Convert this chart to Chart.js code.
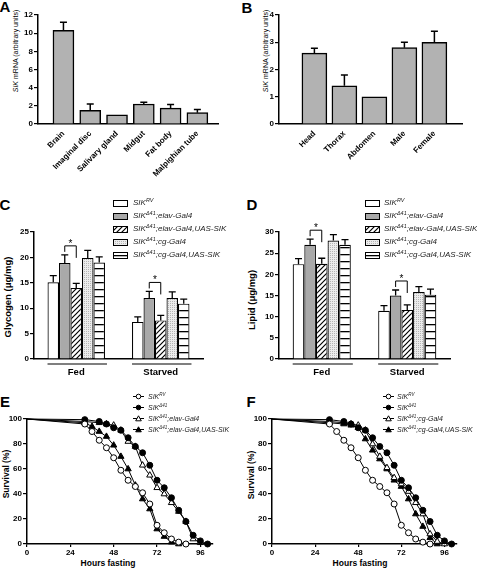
<!DOCTYPE html>
<html>
<head>
<meta charset="utf-8">
<title>SIK expression, storage and starvation survival</title>
<script src="https://cdn.jsdelivr.net/npm/chart.js@4.4.1/dist/chart.umd.min.js"></script>
<style>
  html, body { margin: 0; padding: 0; background: #fff; }
  #fig { position: relative; width: 477px; height: 569px; overflow: hidden;
         font-family: "Liberation Sans", Arial, Helvetica, sans-serif; color: #000; }
  #fig canvas { position: absolute; }
  .txt { position: absolute; white-space: nowrap; line-height: 1; transform: translate(-50%, -50%); }
  .vert { transform: translate(-50%, -50%) rotate(-90deg); }
  .letter { font-size: 15px; font-weight: bold; }
  .ymrna { font-size: 7px; }
  .ybold { font-size: 9.5px; font-weight: bold; }
  .xbold { font-size: 8.5px; font-weight: bold; }
  .leg { position: absolute; white-space: nowrap; line-height: 1; font-style: italic; color: #222; transform: translateY(-50%); }
  .leg sup { vertical-align: 0; position: relative; line-height: 0; }
</style>
</head>
<body>
<div id="fig">
  <div class="txt letter" style="left:5px;top:6px">A</div>
  <div class="txt letter" style="left:247px;top:7px">B</div>
  <div class="txt letter" style="left:5px;top:204px">C</div>
  <div class="txt letter" style="left:252px;top:204px">D</div>
  <div class="txt letter" style="left:5px;top:401px">E</div>
  <div class="txt letter" style="left:251px;top:401px">F</div>

  <div class="txt vert ymrna" style="left:15px;top:51px"><i>SIK</i> mRNA (arbitrary units)</div>
  <div class="txt vert ymrna" style="left:265px;top:51px"><i>SIK</i> mRNA (arbitrary units)</div>
  <div class="txt vert ybold" style="left:8px;top:297px">Glycogen (μg/mg)</div>
  <div class="txt vert ybold" style="left:252px;top:300px">Lipid (μg/mg)</div>
  <div class="txt vert xbold" style="left:6px;top:474px">Survival (%)</div>
  <div class="txt vert xbold" style="left:251px;top:475px">Survival (%)</div>
  <div class="txt xbold" style="left:108px;top:563px">Hours fasting</div>
  <div class="txt xbold" style="left:360px;top:563px">Hours fasting</div>
</div>

<script>
// A: SIK mRNA in tissues
const tissues = ["Brain", "Imaginal disc", "Salivary gland", "Midgut", "Fat body", "Malpighian tube"];
const tissueMean = [10.3, 1.5, 1.0, 2.2, 1.75, 1.25];
const tissueErr = [0.9, 0.7, 0, 0.2, 0.4, 0.35];
const tissueTicks = [0, 2, 4, 6, 8, 10, 12];

// B: SIK mRNA in body parts
const bodyParts = ["Head", "Thorax", "Abdomen", "Male", "Female"];
const bodyMean = [2.6, 1.4, 1.0, 2.8, 3.0];
const bodyErr = [0.18, 0.4, 0, 0.2, 0.4];
const bodyTicks = [0, 1, 2, 3, 4];

// C / D: genotypes, values are [Fed, Starved]
const conditions = ["Fed", "Starved"];
const genotypes = [
  "SIK<sup>RV</sup>",
  "SIK<sup>Δ41</sup>;elav-Gal4",
  "SIK<sup>Δ41</sup>;elav-Gal4,UAS-SIK",
  "SIK<sup>Δ41</sup>;cg-Gal4",
  "SIK<sup>Δ41</sup>;cg-Gal4,UAS-SIK",
];

const glyRV = [15.1, 7.3];
const glyElav = [18.9, 12.0];
const glyElavUAS = [14.0, 7.6];
const glyCg = [19.9, 12.0];
const glyCgUAS = [19.0, 10.9];
const glyErrRV = [1.3, 1.0];
const glyErrElav = [1.6, 1.3];
const glyErrElavUAS = [0.9, 1.0];
const glyErrCg = [1.5, 1.2];
const glyErrCgUAS = [1.1, 0.9];
const glycogenTicks = [0, 5, 10, 15, 20, 25];

const lipRV = [22.4, 11.4];
const lipElav = [27.0, 15.0];
const lipElavUAS = [22.5, 11.6];
const lipCg = [28.0, 15.8];
const lipCgUAS = [27.0, 15.2];
const lipErrRV = [1.3, 1.2];
const lipErrElav = [1.3, 1.3];
const lipErrElavUAS = [1.3, 1.2];
const lipErrCg = [1.4, 1.3];
const lipErrCgUAS = [1.2, 1.3];
const lipidTicks = [0, 5, 10, 15, 20, 25, 30];

// E / F: survival during fasting
const hoursRV = [0, 32, 36, 40, 44, 48, 52, 56, 60, 64, 68, 72, 76, 80, 84, 88];
const survRV = [100, 96, 90, 83, 77, 69, 59, 51, 46, 41, 32, 15, 9, 4, 1.5, 0];
const hoursD41 = [0, 32, 40, 44, 48, 52, 56, 60, 64, 68, 72, 76, 80, 84, 88, 92, 96, 100];
const survD41 = [100, 99.5, 98, 96, 93, 91, 85, 78, 73, 63, 51, 45, 37, 27, 18, 7, 2.5, 0];
const hoursElav = [0, 32, 40, 44, 48, 52, 56, 60, 64, 68, 72, 76, 80, 84, 88, 92, 96];
const survElav = [100, 98, 97, 96, 95, 91, 82, 78, 63, 55, 45, 40, 33, 26, 18, 4, 1];
const hoursElavUAS = [0, 32, 36, 40, 44, 48, 52, 56, 60, 64, 68, 72, 76, 80, 84];
const survElavUAS = [100, 97, 94, 90, 86, 79, 70, 60, 47, 36, 28, 12, 6, 1.5, 0];
const hoursCg = [0, 32, 40, 44, 48, 52, 56, 60, 64, 68, 72, 76, 80, 84, 88, 92, 96];
const survCg = [100, 98, 97, 96, 95, 91, 80, 70, 61, 53, 48, 42, 33, 24, 8, 2, 0];
const hoursCgUAS = [0, 32, 40, 44, 48, 52, 56, 60, 64, 68, 72, 76, 80, 84, 88, 92];
const survCgUAS = [100, 97, 96, 95, 93, 84, 75, 68, 60, 51, 46, 36, 24, 14, 5, 0];
const survivalTicks = [0, 20, 40, 60, 80, 100];
const hourTicks = [0, 24, 48, 72, 96];
const namesE = ["SIK<sup>RV</sup>", "SIK<sup>Δ41</sup>", "SIK<sup>Δ41</sup>;elav-Gal4", "SIK<sup>Δ41</sup>;elav-Gal4,UAS-SIK"];
const namesF = ["SIK<sup>RV</sup>", "SIK<sup>Δ41</sup>", "SIK<sup>Δ41</sup>;cg-Gal4", "SIK<sup>Δ41</sup>;cg-Gal4,UAS-SIK"];

const FONT = "'Liberation Sans', Arial, Helvetica, sans-serif";
Chart.defaults.font.family = FONT;
Chart.defaults.color = "#000";
Chart.defaults.animation = false;

const fig = document.getElementById("fig");

function addCanvas(left, top, w, h) {
  const c = document.createElement("canvas");
  c.width = w;
  c.height = h;
  c.style.left = left + "px";
  c.style.top = top + "px";
  c.style.width = w + "px";
  c.style.height = h + "px";
  fig.appendChild(c);
  return c;
}

// fixed axis sizes so the plot areas land where the figure has them
function fixW(w) {
  return s => { s.width = w; s.paddingLeft = s.paddingRight = s.paddingTop = s.paddingBottom = 0; };
}
function fixH(h) {
  return s => { s.height = h; s.paddingLeft = s.paddingRight = s.paddingTop = s.paddingBottom = 0; };
}
function setTicks(vals) {
  return s => { s.ticks = vals.map(v => ({ value: v })); };
}

function yAxis(width, ticks) {
  return {
    min: 0,
    max: ticks[ticks.length - 1],
    afterBuildTicks: setTicks(ticks),
    afterFit: fixW(width),
    grid: { drawOnChartArea: false, color: "#000", lineWidth: 1.2, tickLength: 4 },
    border: { color: "#000", width: 1.5 },
    ticks: { font: { size: 8, weight: "bold" }, color: "#000", padding: 1 },
  };
}

// patterns for the bar fills
function makePattern(kind) {
  const c = document.createElement("canvas");
  const x = c.getContext("2d");
  if (kind === "hatch") {
    c.width = c.height = 5;
    x.fillStyle = "#fff";
    x.fillRect(0, 0, 5, 5);
    x.strokeStyle = "#000";
    x.lineWidth = 1.2;
    x.beginPath();
    x.moveTo(-1, 6); x.lineTo(6, -1);
    x.moveTo(-1, 1); x.lineTo(1, -1);
    x.moveTo(4, 6); x.lineTo(6, 4);
    x.stroke();
  } else if (kind === "dots") {
    c.width = c.height = 2;
    x.fillStyle = "#ececec";
    x.fillRect(0, 0, 2, 2);
    x.fillStyle = "#b5b5b5";
    x.fillRect(0, 0, 1, 1);
  } else {
    c.width = 4; c.height = 7;
    x.fillStyle = "#fff";
    x.fillRect(0, 0, 4, 7);
    x.fillStyle = "#000";
    x.fillRect(0, 3, 4, 1.3);
  }
  return x.createPattern(c, "repeat");
}
const fills = ["#fff", "#a9a9a9", makePattern("hatch"), makePattern("dots"), makePattern("lines")];

const errorBars = {
  id: "errorBars",
  afterDatasetsDraw(chart, args, opts) {
    const ctx = chart.ctx;
    const yScale = chart.scales.y;
    const half = opts.cap || 3.5;
    ctx.save();
    ctx.strokeStyle = "#000";
    ctx.lineWidth = opts.width || 1.3;
    chart.data.datasets.forEach((ds, di) => {
      if (!ds.errors) return;
      chart.getDatasetMeta(di).data.forEach((bar, i) => {
        const err = ds.errors[i];
        if (!err) return;
        const raw = ds.data[i];
        const val = typeof raw === "object" ? raw.y : raw;
        const top = yScale.getPixelForValue(val + err);
        ctx.beginPath();
        ctx.moveTo(bar.x, bar.y);
        ctx.lineTo(bar.x, top);
        ctx.moveTo(bar.x - half, top);
        ctx.lineTo(bar.x + half, top);
        ctx.stroke();
      });
    });
    ctx.restore();
  },
};

// group underlines and the * brackets between bars 2 and 3
const groupMarks = {
  id: "groupMarks",
  afterDatasetsDraw(chart) {
    const ctx = chart.ctx;
    const y = chart.scales.y;
    const area = chart.chartArea;
    const sets = chart.data.datasets;
    const metas = sets.map((d, i) => chart.getDatasetMeta(i));
    ctx.save();
    chart.data.labels.forEach((lab, i) => {
      const first = metas[0].data[i];
      const last = metas[metas.length - 1].data[i];
      ctx.strokeStyle = "#555";
      ctx.lineWidth = 1.5;
      ctx.beginPath();
      ctx.moveTo(first.x - first.width / 2, area.bottom + 5);
      ctx.lineTo(last.x + last.width / 2 + 2, area.bottom + 5);
      ctx.stroke();

      const a = sets[1], b = sets[2];
      const top = Math.min(y.getPixelForValue(a.data[i] + a.errors[i]), y.getPixelForValue(b.data[i] + b.errors[i])) - 9;
      const x1 = metas[1].data[i].x;
      const x2 = metas[2].data[i].x;
      ctx.strokeStyle = "#000";
      ctx.lineWidth = 1;
      ctx.beginPath();
      ctx.moveTo(x1, top + 6);
      ctx.lineTo(x1, top);
      ctx.lineTo(x2, top);
      ctx.lineTo(x2, top + 12);
      ctx.stroke();
      ctx.fillStyle = "#000";
      ctx.font = "10px " + FONT;
      ctx.textAlign = "center";
      ctx.textBaseline = "alphabetic";
      ctx.fillText("*", (x1 + x2) / 2, top + 1);
    });
    ctx.restore();
  },
};

// A and B: bars on an index axis
function mrnaChart(rect, pad, yW, xH, names, means, errs, ticks, xmin, xmax, thick) {
  new Chart(addCanvas(rect[0], rect[1], rect[2], rect[3]), {
    type: "bar",
    data: {
      datasets: [{
        data: names.map((n, i) => ({ x: i, y: means[i] })),
        errors: errs,
        backgroundColor: "#b2b2b2",
        borderColor: "#000",
        borderWidth: 1.5,
        barThickness: thick,
      }],
    },
    options: {
      responsive: false,
      events: [],
      layout: { padding: pad },
      plugins: { legend: { display: false }, tooltip: { enabled: false }, errorBars: { cap: 3.5, width: 1.5 } },
      scales: {
        x: {
          type: "linear",
          offset: false,
          min: xmin,
          max: xmax,
          afterBuildTicks: setTicks(names.map((n, i) => i)),
          afterFit: fixH(xH),
          grid: { display: false, drawTicks: false },
          border: { color: "#000", width: 1.5 },
          ticks: {
            callback: v => names[v],
            autoSkip: false,
            minRotation: 45,
            maxRotation: 45,
            padding: 5,
            font: { size: 8, weight: "bold" },
            color: "#000",
          },
        },
        y: yAxis(yW, ticks),
      },
    },
    plugins: [errorBars],
  });
}

mrnaChart([0, 0, 238, 185], { left: 0, top: 15, right: 20, bottom: 0 }, 38, 61,
  tissues, tissueMean, tissueErr, tissueTicks, -0.95, 5.77, 21);
mrnaChart([240, 0, 237, 185], { left: 0, top: 15, right: 15, bottom: 0 }, 39, 61,
  bodyParts, bodyMean, bodyErr, bodyTicks, -1.18, 4.92, 25);

// C and D: grouped, patterned bars
function storageChart(rect, pad, yW, means, errs, ticks) {
  new Chart(addCanvas(rect[0], rect[1], rect[2], rect[3]), {
    type: "bar",
    data: {
      labels: conditions,
      datasets: means.map((m, k) => ({
        data: m,
        errors: errs[k],
        backgroundColor: fills[k],
        borderColor: "#000",
        borderWidth: 1.2,
        categoryPercentage: 0.68,
        barPercentage: 1.0,
      })),
    },
    options: {
      responsive: false,
      events: [],
      layout: { padding: pad },
      plugins: { legend: { display: false }, tooltip: { enabled: false }, errorBars: { cap: 3.5, width: 1.3 } },
      scales: {
        x: {
          afterFit: fixH(26),
          grid: { display: false, drawTicks: false },
          border: { color: "#000", width: 1.5 },
          ticks: { padding: 8, font: { size: 9.5, weight: "bold" }, color: "#000" },
        },
        y: yAxis(yW, ticks),
      },
    },
    plugins: [errorBars, groupMarks],
  });
}

storageChart([0, 195, 238, 190], { left: 0, top: 37, right: 35, bottom: 0 }, 34,
  [glyRV, glyElav, glyElavUAS, glyCg, glyCgUAS],
  [glyErrRV, glyErrElav, glyErrElavUAS, glyErrCg, glyErrCgUAS], glycogenTicks);
storageChart([240, 195, 237, 190], { left: 0, top: 37, right: 27, bottom: 0 }, 39,
  [lipRV, lipElav, lipElavUAS, lipCg, lipCgUAS],
  [lipErrRV, lipErrElav, lipErrElavUAS, lipErrCg, lipErrCgUAS], lipidTicks);

// E and F: survival curves
function survSet(hours, values, style, filled) {
  const r = style === "triangle" ? 3.6 : 3;
  return {
    data: hours.map((h, i) => ({ x: h, y: values[i] })),
    borderColor: "#000",
    borderWidth: 1,
    tension: 0,
    clip: false,
    pointStyle: style,
    pointRadius: hours.map(h => (h === 0 ? 0 : r)),
    pointBorderWidth: 1,
    pointBorderColor: "#000",
    pointBackgroundColor: filled ? "#000" : "#fff",
  };
}

function survivalChart(rect, pad, yW, sets) {
  new Chart(addCanvas(rect[0], rect[1], rect[2], rect[3]), {
    type: "line",
    data: { datasets: sets },
    options: {
      responsive: false,
      events: [],
      layout: { padding: pad },
      plugins: { legend: { display: false }, tooltip: { enabled: false } },
      scales: {
        x: {
          type: "linear",
          min: 0,
          max: 103,
          afterBuildTicks: setTicks(hourTicks),
          afterFit: fixH(25),
          grid: { drawOnChartArea: false, color: "#000", lineWidth: 1.2, tickLength: 3 },
          border: { color: "#000", width: 1.5 },
          ticks: { maxRotation: 0, padding: 1, font: { size: 8, weight: "bold" }, color: "#000" },
        },
        y: yAxis(yW, survivalTicks),
      },
    },
  });
}

survivalChart([0, 385, 238, 184], { left: 0, top: 34, right: 25, bottom: 0 }, 27, [
  survSet(hoursRV, survRV, "circle", false),
  survSet(hoursD41, survD41, "circle", true),
  survSet(hoursElav, survElav, "triangle", false),
  survSet(hoursElavUAS, survElavUAS, "triangle", true),
]);
survivalChart([240, 385, 237, 184], { left: 0, top: 34, right: 20, bottom: 0 }, 32, [
  survSet(hoursRV, survRV, "circle", false),
  survSet(hoursD41, survD41, "circle", true),
  survSet(hoursCg, survCg, "triangle", false),
  survSet(hoursCgUAS, survCgUAS, "triangle", true),
]);

// legends
function swatch(fill) {
  const c = document.createElement("canvas");
  c.width = 15;
  c.height = 7;
  const x = c.getContext("2d");
  x.fillStyle = fill;
  x.fillRect(0, 0, 15, 7);
  x.strokeStyle = "#000";
  x.lineWidth = 1;
  x.strokeRect(0.5, 0.5, 14, 6);
  return c;
}

function lineSymbol(style, filled) {
  const c = document.createElement("canvas");
  c.width = 11;
  c.height = 7;
  const x = c.getContext("2d");
  x.strokeStyle = "#000";
  x.lineWidth = 1;
  x.beginPath();
  x.moveTo(0, 3.5);
  x.lineTo(11, 3.5);
  x.stroke();
  x.fillStyle = filled ? "#000" : "#fff";
  x.beginPath();
  if (style === "circle") {
    x.arc(5.5, 3.5, 2.3, 0, Math.PI * 2);
  } else {
    x.moveTo(5.5, 0.8);
    x.lineTo(8.3, 5.8);
    x.lineTo(2.7, 5.8);
    x.closePath();
  }
  x.fill();
  x.stroke();
  return c;
}

function legendItem(sym, symLeft, y, html, textLeft, size, supSize) {
  sym.style.left = symLeft + "px";
  sym.style.top = Math.round(y - sym.height / 2) + "px";
  fig.appendChild(sym);
  const d = document.createElement("div");
  d.className = "leg";
  d.style.left = textLeft + "px";
  d.style.top = y + "px";
  d.style.fontSize = size + "px";
  d.innerHTML = html;
  d.querySelectorAll("sup").forEach(s => {
    s.style.fontSize = supSize + "px";
    s.style.top = -Math.round(size * 0.38) + "px";
  });
  fig.appendChild(d);
}

genotypes.forEach((g, k) => {
  legendItem(swatch(fills[k]), 113, 203 + 13 * k, g, 133, 8, 5.5);
  legendItem(swatch(fills[k]), 365, 203 + 13 * k, g, 384, 8, 5.5);
});

const symStyles = [["circle", false], ["circle", true], ["triangle", false], ["triangle", true]];
namesE.forEach((n, k) => {
  legendItem(lineSymbol(symStyles[k][0], symStyles[k][1]), 133, 396 + 11 * k, n, 148, 7, 4.5);
});
namesF.forEach((n, k) => {
  legendItem(lineSymbol(symStyles[k][0], symStyles[k][1]), 383, 396 + 11 * k, n, 397, 7, 4.5);
});
</script>
</body>
</html>
